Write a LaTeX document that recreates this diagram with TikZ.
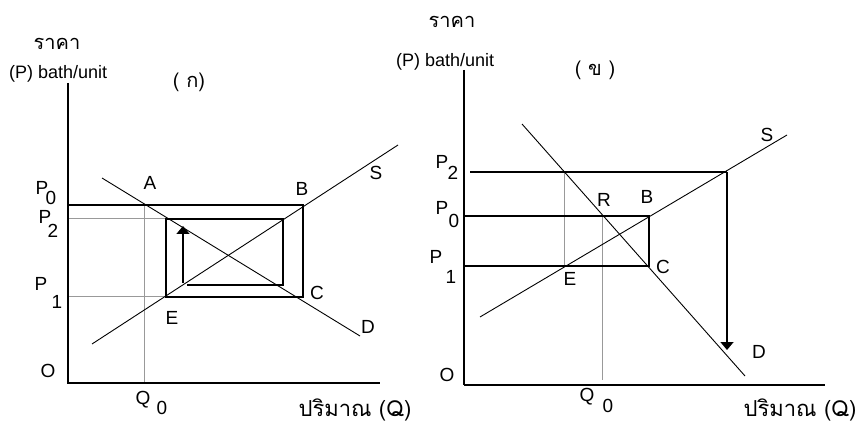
\documentclass[tikz,border=0pt]{standalone}
\usepackage{fontspec}
\setmainfont{Liberation Sans}
\newfontfamily\thai[Script=Thai]{Loma}
\usetikzlibrary{arrows.meta}
\tikzset{
  axis/.style={line width=2pt},
  curve/.style={line width=0.9pt},
  web/.style={line width=1.6pt},
  guide/.style={line width=1pt, draw=gray!80},
  lbl/.style={inner sep=0pt, font=\fontsize{19}{19}\selectfont},
  sublbl/.style={inner sep=0pt, font=\fontsize{19}{19}\selectfont},
  unitlbl/.style={inner sep=0pt, font=\fontsize{18}{18}\selectfont},
  thailbl/.style={inner sep=0pt, font=\thai\fontsize{20}{20}\selectfont},
  qtylbl/.style={inner sep=0pt, font=\thai\fontsize{22}{22}\selectfont},
  tip/.style={-{Triangle[width=13pt,length=8pt]}}
}
\begin{document}
\begin{tikzpicture}[x=1pt,y=-1pt]
\useasboundingbox (0,0) rectangle (861,427);
% ================= left panel =================
\coordinate (LO) at (68,383);
\coordinate (LYt) at (68,83);
\coordinate (LXe) at (380,383);
\coordinate (LSa) at (92,344);
\coordinate (LSb) at (398,145);
\coordinate (LDa) at (102,178);
\coordinate (LDb) at (360,336);
\coordinate (LQ0b) at (144,383);
\coordinate (LA) at (144,205);
\coordinate (LP0) at (68,205);
\coordinate (LB) at (303,205);
\coordinate (LC) at (303,297);
\coordinate (LE) at (166,297);
\coordinate (LP1) at (68,297);
\coordinate (LP2) at (68,219);
\coordinate (LF) at (166,219);
\coordinate (LG) at (283,219);
\coordinate (LH) at (283,285);
\coordinate (LI) at (187,285);
\coordinate (LJ) at (183,283);
\coordinate (LK) at (183,226);

\draw[guide] (LQ0b) -- (LA);
\draw[guide] (LP2) -- (LF);
\draw[guide] (LP1) -- (LE);
\draw[curve] (LSa) -- (LSb);
\draw[curve] (LDa) -- (LDb);
\draw[web] (LI) -- (LH) -- (LG) -- (LF) -- (LE) -- (LC) -- (LB) -- (LP0);
\draw[web, tip] (LJ) -- (LK);
\draw[axis] (LYt) -- (LO) -- (LXe);

\node[thailbl] (lprice) at (57,44) {ราคา};
\node[unitlbl, anchor=west] (lunit) at (9,74) {(P) bath/unit};
\node[thailbl] (lka) at (189,82) {( ก)};
\node[lbl] (lA) at (150,183) {A};
\node[lbl] (lB) at (302,189) {B};
\node[lbl] (lS) at (376,173) {S};
\node[lbl] (lC) at (317,293) {C};
\node[lbl] (lD) at (368,327) {D};
\node[lbl] (lE) at (172,318) {E};
\node[lbl] (lP0) at (42,188) {P};
\node[sublbl] (lP0s) at (51,198) {0};
\node[lbl] (lP2) at (45,217) {P};
\node[sublbl] (lP2s) at (53,231) {2};
\node[lbl] (lP1) at (41,284) {P};
\node[sublbl] (lP1s) at (57,302) {1};
\node[lbl] (lO) at (48,371) {O};
\node[lbl] (lQ) at (143,400) {Q};
\node[sublbl] (lQs) at (162,408) {0};
\node[qtylbl] (lqty) at (355,410) {ปริมาณ (Q)};

% ================= right panel =================
\coordinate (RO) at (464,385);
\coordinate (RYt) at (464,70);
\coordinate (RXe) at (825,385);
\coordinate (RSa) at (480,317);
\coordinate (RSb) at (787,135);
\coordinate (RDa) at (522,124);
\coordinate (RDb) at (745,376);
\coordinate (RP2) at (470,172);
\coordinate (RT) at (727,172);
\coordinate (RArr) at (727,350);
\coordinate (RP0) at (464,216);
\coordinate (RB) at (649,216);
\coordinate (RP1) at (464,266);
\coordinate (RC) at (649,266);
\coordinate (RG1) at (564,172);
\coordinate (RG2) at (564,266);
\coordinate (RR) at (602,216);
\coordinate (RQb) at (602,380);

\draw[guide] (RG1) -- (RG2);
\draw[guide] (RR) -- (RQb);
\draw[curve] (RSa) -- (RSb);
\draw[curve] (RDa) -- (RDb);
\draw[web] (RP2) -- (RT);
\draw[web, tip] (RT) -- (RArr);
\draw[web] (RP0) -- (RB) -- (RC) -- (RP1);
\draw[axis] (RYt) -- (RO);
\draw[line width=2.6pt] (RO) -- (RXe);

\node[thailbl] (rprice) at (452,22) {ราคา};
\node[unitlbl, anchor=west] (runit) at (396,62) {(P) bath/unit};
\node[thailbl] (rkho) at (595,70) {( ข )};
\node[lbl] (rR) at (604,200) {R};
\node[lbl] (rB) at (647,197) {B};
\node[lbl] (rS) at (767,135) {S};
\node[lbl] (rC) at (663,267) {C};
\node[lbl] (rD) at (759,352) {D};
\node[lbl] (rE) at (570,279) {E};
\node[lbl] (rP2) at (442,162) {P};
\node[sublbl] (rP2s) at (453,173) {2};
\node[lbl] (rP0) at (442,208) {P};
\node[sublbl] (rP0s) at (454,221) {0};
\node[lbl] (rP1) at (436,257) {P};
\node[sublbl] (rP1s) at (451,277) {1};
\node[lbl] (rO) at (447,375) {O};
\node[lbl] (rQ) at (587,397) {Q};
\node[sublbl] (rQs) at (608,406) {0};
\node[qtylbl] (rqty) at (800,410) {ปริมาณ (Q)};
\end{tikzpicture}
\end{document}
